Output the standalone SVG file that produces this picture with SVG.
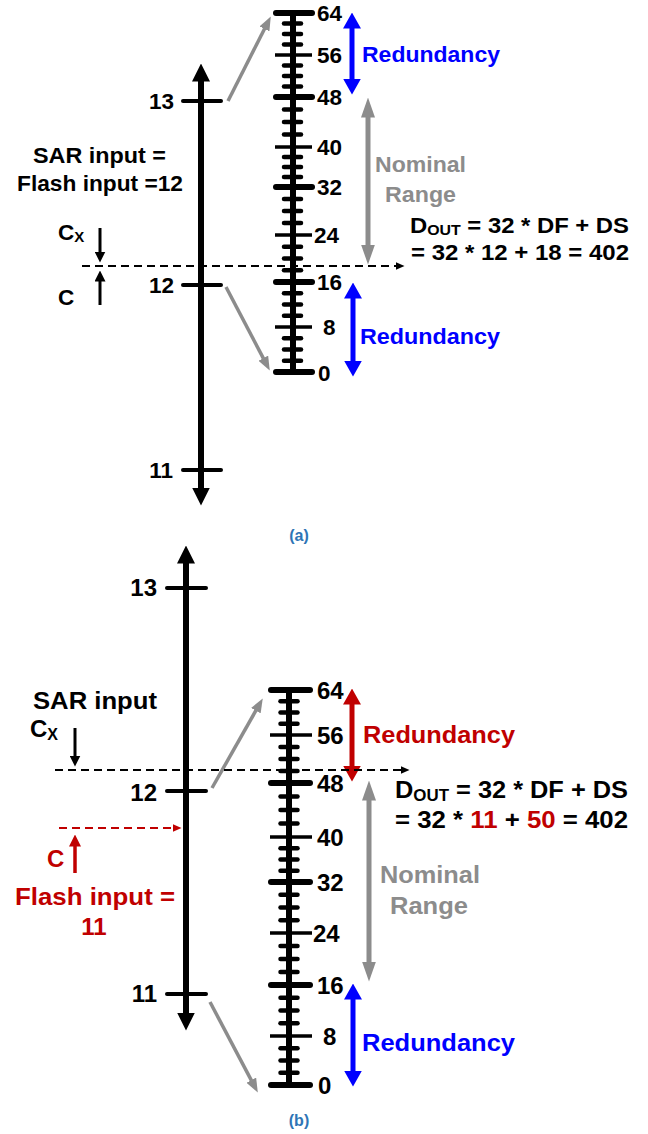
<svg xmlns="http://www.w3.org/2000/svg" width="648" height="1134" viewBox="0 0 648 1134">
<style>
.t{font-family:"Liberation Sans",Arial,sans-serif;font-weight:bold;font-size:22px;fill:#000}
.ta{font-size:22.5px}
.tb{font-size:24px}
.sub{font-size:15px}
.blue{fill:#0000ff}
.red{fill:#c00000}
.gray{fill:#8c8c8c}
.cap{font-family:"Liberation Sans",Arial,sans-serif;font-weight:bold;font-size:16px;fill:#2e75b6}
.axis{stroke:#000;stroke-width:6;fill:none}
.mtick{stroke:#000;stroke-width:4;stroke-linecap:round}
.spine{stroke:#000;stroke-width:6}
.long{stroke:#000;stroke-width:6;stroke-linecap:round}
.med{stroke:#000;stroke-width:3.5}
.minor{stroke:#000;stroke-width:4.5;stroke-linecap:round}
.ab{stroke:#0000ff;stroke-width:5;marker-start:url(#mb);marker-end:url(#mb)}
.ar{stroke:#c00000;stroke-width:5;marker-start:url(#mr);marker-end:url(#mr)}
.ag{stroke:#8c8c8c;stroke-width:5;marker-start:url(#mg);marker-end:url(#mg)}
.sl{stroke:#8c8c8c;stroke-width:3.5;marker-end:url(#ms)}
.dash{stroke:#000;stroke-width:2;stroke-dasharray:8 5;marker-end:url(#md)}
.rdash{stroke:#c00000;stroke-width:2;stroke-dasharray:8 5;marker-end:url(#mrd)}
.cx{stroke:#000;stroke-width:3;marker-end:url(#mc)}
.rcx{stroke:#c00000;stroke-width:3.5;marker-end:url(#mrc)}
</style>
<defs>
<marker id="mk" markerUnits="userSpaceOnUse" viewBox="0 0 18 18" markerWidth="18" markerHeight="18" refX="0.5" refY="9" orient="auto-start-reverse"><path d="M0,0 L18,9 L0,18 z" fill="#000"/></marker>
<marker id="mb" markerUnits="userSpaceOnUse" viewBox="0 0 16 18" markerWidth="16" markerHeight="18" refX="0.5" refY="9" orient="auto-start-reverse"><path d="M0,0 L16,9 L0,18 z" fill="#0000ff"/></marker>
<marker id="mr" markerUnits="userSpaceOnUse" viewBox="0 0 16 18" markerWidth="16" markerHeight="18" refX="0.5" refY="9" orient="auto-start-reverse"><path d="M0,0 L16,9 L0,18 z" fill="#c00000"/></marker>
<marker id="mg" markerUnits="userSpaceOnUse" viewBox="0 0 20 14" markerWidth="20" markerHeight="14" refX="0.5" refY="7" orient="auto-start-reverse"><path d="M0,0 L20,7 L0,14 z" fill="#8c8c8c"/></marker>
<marker id="ms" markerUnits="userSpaceOnUse" viewBox="0 0 14 11" markerWidth="14" markerHeight="11" refX="0.5" refY="5.5" orient="auto"><path d="M0,0 L14,5.5 L0,11 z" fill="#8c8c8c"/></marker>
<marker id="md" markerUnits="userSpaceOnUse" viewBox="0 0 9 8" markerWidth="9" markerHeight="8" refX="0.5" refY="4" orient="auto"><path d="M0,0 L9,4 L0,8 z" fill="#000"/></marker>
<marker id="mrd" markerUnits="userSpaceOnUse" viewBox="0 0 9 8" markerWidth="9" markerHeight="8" refX="0.5" refY="4" orient="auto"><path d="M0,0 L9,4 L0,8 z" fill="#c00000"/></marker>
<marker id="mc" markerUnits="userSpaceOnUse" viewBox="0 0 11 11" markerWidth="11" markerHeight="11" refX="0.5" refY="5.5" orient="auto"><path d="M0,0 L11,5.5 L0,11 z" fill="#000"/></marker>
<marker id="mrc" markerUnits="userSpaceOnUse" viewBox="0 0 12 12" markerWidth="12" markerHeight="12" refX="0.5" refY="6" orient="auto"><path d="M0,0 L12,6 L0,12 z" fill="#c00000"/></marker>
</defs>

<!-- ===================== (a) ===================== -->
<g id="a-main-axis">
<line x1="201" y1="81" x2="201" y2="488" class="axis" marker-start="url(#mk)" marker-end="url(#mk)"/>
<line x1="183" y1="101" x2="221" y2="101" class="mtick"/>
<line x1="183" y1="285" x2="221" y2="285" class="mtick"/>
<line x1="183" y1="470" x2="221" y2="470" class="mtick"/>
<text x="174" y="109" class="t ta" text-anchor="end">13</text>
<text x="174" y="293" class="t ta" text-anchor="end">12</text>
<text x="173" y="478" class="t ta" text-anchor="end">11</text>
</g>

<g id="a-scale">
<line x1="293" y1="13" x2="293" y2="372" class="spine"/>
<g>
<line x1="276" y1="13" x2="312" y2="13" class="long"/>
<line x1="276" y1="97" x2="312" y2="97" class="long"/>
<line x1="276" y1="187" x2="312" y2="187" class="long"/>
<line x1="276" y1="282" x2="312" y2="282" class="long"/>
<line x1="276" y1="372" x2="312" y2="372" class="long"/>
<line x1="275" y1="55" x2="312" y2="55" class="med"/>
<line x1="275" y1="147" x2="312" y2="147" class="med"/>
<line x1="275" y1="235" x2="312" y2="235" class="med"/>
<line x1="275" y1="327" x2="312" y2="327" class="med"/>
</g>
<g>
<line x1="284" y1="23.5" x2="301" y2="23.5" class="minor"/>
<line x1="284" y1="34" x2="301" y2="34" class="minor"/>
<line x1="284" y1="44.5" x2="301" y2="44.5" class="minor"/>
<line x1="284" y1="65.5" x2="301" y2="65.5" class="minor"/>
<line x1="284" y1="76" x2="301" y2="76" class="minor"/>
<line x1="284" y1="86.5" x2="301" y2="86.5" class="minor"/>
<line x1="284" y1="109.5" x2="301" y2="109.5" class="minor"/>
<line x1="284" y1="122" x2="301" y2="122" class="minor"/>
<line x1="284" y1="134.5" x2="301" y2="134.5" class="minor"/>
<line x1="284" y1="157" x2="301" y2="157" class="minor"/>
<line x1="284" y1="167" x2="301" y2="167" class="minor"/>
<line x1="284" y1="177" x2="301" y2="177" class="minor"/>
<line x1="284" y1="199" x2="301" y2="199" class="minor"/>
<line x1="284" y1="211" x2="301" y2="211" class="minor"/>
<line x1="284" y1="223" x2="301" y2="223" class="minor"/>
<line x1="284" y1="246.75" x2="301" y2="246.75" class="minor"/>
<line x1="284" y1="258.5" x2="301" y2="258.5" class="minor"/>
<line x1="284" y1="270.25" x2="301" y2="270.25" class="minor"/>
<line x1="284" y1="293.25" x2="301" y2="293.25" class="minor"/>
<line x1="284" y1="304.5" x2="301" y2="304.5" class="minor"/>
<line x1="284" y1="315.75" x2="301" y2="315.75" class="minor"/>
<line x1="284" y1="338.25" x2="301" y2="338.25" class="minor"/>
<line x1="284" y1="349.5" x2="301" y2="349.5" class="minor"/>
<line x1="284" y1="360.75" x2="301" y2="360.75" class="minor"/>
</g>
<text x="317" y="21" class="t ta">64</text>
<text x="317" y="63" class="t ta">56</text>
<text x="317" y="105" class="t ta">48</text>
<text x="317" y="155" class="t ta">40</text>
<text x="317" y="195" class="t ta">32</text>
<text x="314" y="243" class="t ta">24</text>
<text x="317" y="290" class="t ta">16</text>
<text x="323" y="335" class="t ta">8</text>
<text x="318" y="381" class="t ta">0</text>
</g>

<g id="a-labels">
<text x="33" y="163" class="t ta" textLength="133" lengthAdjust="spacingAndGlyphs">SAR input =</text>
<text x="17" y="191" class="t ta" textLength="166" lengthAdjust="spacingAndGlyphs">Flash input =12</text>
<text x="58" y="240" class="t ta">C<tspan class="sub" dy="2">X</tspan></text>
<text x="58" y="305" class="t ta">C</text>
<text x="362" y="62" class="t ta blue" textLength="138" lengthAdjust="spacingAndGlyphs">Redundancy</text>
<text x="360" y="344" class="t ta blue" textLength="140" lengthAdjust="spacingAndGlyphs">Redundancy</text>
<text x="375" y="172" class="t ta gray" textLength="91" lengthAdjust="spacingAndGlyphs">Nominal</text>
<text x="385" y="202" class="t ta gray" textLength="71" lengthAdjust="spacingAndGlyphs">Range</text>
<text x="410" y="233" class="t ta" textLength="219" lengthAdjust="spacingAndGlyphs">D<tspan class="sub" dy="2">OUT</tspan><tspan dy="-2"> = 32 * DF + DS</tspan></text>
<text x="411" y="260" class="t ta" textLength="218" lengthAdjust="spacingAndGlyphs">= 32 * 12 + 18 = 402</text>
<text x="299" y="541" class="cap" text-anchor="middle">(a)</text>
</g>

<g id="a-connectors">
<line x1="228" y1="101" x2="264.7" y2="28.5" class="sl"/>
<line x1="226" y1="287" x2="263.5" y2="358.6" class="sl"/>
<line x1="352" y1="28" x2="352" y2="79" class="ab"/>
<line x1="353" y1="298" x2="353" y2="361" class="ab"/>
<line x1="368" y1="117" x2="368" y2="245" class="ag"/>
<line x1="82" y1="266" x2="396" y2="266" class="dash"/>
<line x1="100" y1="228" x2="100" y2="252" class="cx"/>
<line x1="100" y1="305" x2="100" y2="281" class="cx"/>
</g>

<!-- ===================== (b) ===================== -->
<g id="b-main-axis">
<line x1="186" y1="563" x2="186" y2="1013" class="axis" marker-start="url(#mk)" marker-end="url(#mk)"/>
<line x1="167" y1="588" x2="206" y2="588" class="mtick"/>
<line x1="167" y1="791" x2="206" y2="791" class="mtick"/>
<line x1="167" y1="994" x2="206" y2="994" class="mtick"/>
<text x="157" y="596" class="t tb" text-anchor="end">13</text>
<text x="157" y="801" class="t tb" text-anchor="end">12</text>
<text x="157" y="1002" class="t tb" text-anchor="end">11</text>
</g>

<g id="b-scale">
<line x1="289" y1="690" x2="289" y2="1085" class="spine"/>
<g>
<line x1="271" y1="690" x2="310" y2="690" class="long"/>
<line x1="271" y1="783" x2="310" y2="783" class="long"/>
<line x1="271" y1="882" x2="310" y2="882" class="long"/>
<line x1="271" y1="985" x2="310" y2="985" class="long"/>
<line x1="271" y1="1085" x2="310" y2="1085" class="long"/>
<line x1="270" y1="735" x2="312" y2="735" class="med"/>
<line x1="270" y1="837" x2="312" y2="837" class="med"/>
<line x1="270" y1="933" x2="312" y2="933" class="med"/>
<line x1="270" y1="1036" x2="312" y2="1036" class="med"/>
</g>
<g>
<line x1="280.5" y1="701.25" x2="297.5" y2="701.25" class="minor"/>
<line x1="280.5" y1="712.5" x2="297.5" y2="712.5" class="minor"/>
<line x1="280.5" y1="723.75" x2="297.5" y2="723.75" class="minor"/>
<line x1="280.5" y1="747" x2="297.5" y2="747" class="minor"/>
<line x1="280.5" y1="759" x2="297.5" y2="759" class="minor"/>
<line x1="280.5" y1="771" x2="297.5" y2="771" class="minor"/>
<line x1="280.5" y1="796.5" x2="297.5" y2="796.5" class="minor"/>
<line x1="280.5" y1="810" x2="297.5" y2="810" class="minor"/>
<line x1="280.5" y1="823.5" x2="297.5" y2="823.5" class="minor"/>
<line x1="280.5" y1="848.25" x2="297.5" y2="848.25" class="minor"/>
<line x1="280.5" y1="859.5" x2="297.5" y2="859.5" class="minor"/>
<line x1="280.5" y1="870.75" x2="297.5" y2="870.75" class="minor"/>
<line x1="280.5" y1="894.75" x2="297.5" y2="894.75" class="minor"/>
<line x1="280.5" y1="907.5" x2="297.5" y2="907.5" class="minor"/>
<line x1="280.5" y1="920.25" x2="297.5" y2="920.25" class="minor"/>
<line x1="280.5" y1="946" x2="297.5" y2="946" class="minor"/>
<line x1="280.5" y1="959" x2="297.5" y2="959" class="minor"/>
<line x1="280.5" y1="972" x2="297.5" y2="972" class="minor"/>
<line x1="280.5" y1="997.75" x2="297.5" y2="997.75" class="minor"/>
<line x1="280.5" y1="1010.5" x2="297.5" y2="1010.5" class="minor"/>
<line x1="280.5" y1="1023.25" x2="297.5" y2="1023.25" class="minor"/>
<line x1="280.5" y1="1048.25" x2="297.5" y2="1048.25" class="minor"/>
<line x1="280.5" y1="1060.5" x2="297.5" y2="1060.5" class="minor"/>
<line x1="280.5" y1="1072.75" x2="297.5" y2="1072.75" class="minor"/>
</g>
<text x="317" y="699" class="t tb">64</text>
<text x="317" y="744" class="t tb">56</text>
<text x="317" y="792" class="t tb">48</text>
<text x="317" y="846" class="t tb">40</text>
<text x="317" y="891" class="t tb">32</text>
<text x="313" y="942" class="t tb">24</text>
<text x="317" y="994" class="t tb">16</text>
<text x="323" y="1045" class="t tb">8</text>
<text x="318" y="1094" class="t tb">0</text>
</g>

<g id="b-labels">
<text x="33" y="709" class="t tb" textLength="124" lengthAdjust="spacingAndGlyphs">SAR input</text>
<text x="30" y="737" class="t tb">C<tspan class="sub" dy="3" style="font-size:16px">X</tspan></text>
<text x="47" y="867" class="t tb red">C</text>
<text x="15" y="905" class="t tb red" textLength="160" lengthAdjust="spacingAndGlyphs">Flash input =</text>
<text x="94" y="935" class="t tb red" text-anchor="middle">11</text>
<text x="363" y="743" class="t tb red" textLength="152" lengthAdjust="spacingAndGlyphs">Redundancy</text>
<text x="362" y="1051" class="t tb blue" textLength="153" lengthAdjust="spacingAndGlyphs">Redundancy</text>
<text x="380" y="883" class="t tb gray" textLength="100" lengthAdjust="spacingAndGlyphs">Nominal</text>
<text x="390" y="914" class="t tb gray" textLength="78" lengthAdjust="spacingAndGlyphs">Range</text>
<text x="395" y="798" class="t tb" textLength="233" lengthAdjust="spacingAndGlyphs">D<tspan class="sub" dy="3" style="font-size:16px">OUT</tspan><tspan dy="-3"> = 32 * DF + DS</tspan></text>
<text x="395" y="828" class="t tb" textLength="233" lengthAdjust="spacingAndGlyphs">= 32 * <tspan class="red">11</tspan> + <tspan class="red">50</tspan> = 402</text>
<text x="299" y="1126" class="cap" text-anchor="middle">(b)</text>
</g>

<g id="b-connectors">
<line x1="212" y1="788" x2="256.1" y2="710.2" class="sl"/>
<line x1="210" y1="1002" x2="251.5" y2="1080.6" class="sl"/>
<line x1="352" y1="704" x2="352" y2="766" class="ar"/>
<line x1="353" y1="999" x2="353" y2="1071" class="ab"/>
<line x1="369" y1="800" x2="369" y2="962" class="ag"/>
<line x1="55" y1="770" x2="401" y2="770" class="dash"/>
<line x1="59" y1="828" x2="173" y2="828" class="rdash"/>
<line x1="75" y1="728" x2="75" y2="756" class="cx"/>
<line x1="75" y1="873" x2="75" y2="846" class="rcx"/>
</g>
</svg>
